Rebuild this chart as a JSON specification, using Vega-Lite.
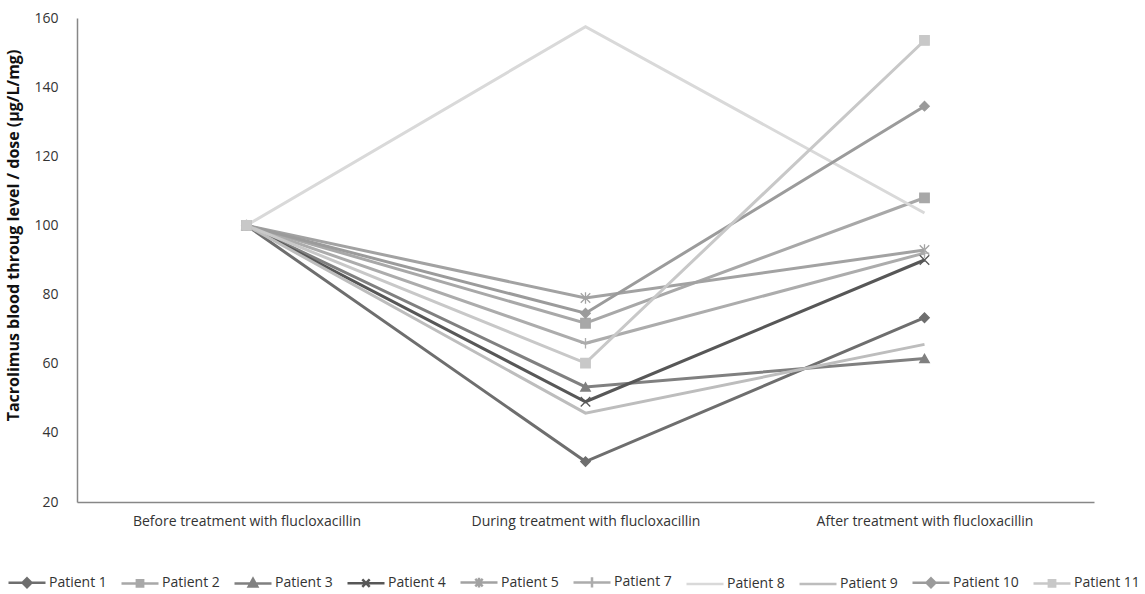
{
  "$schema": "https://vega.github.io/schema/vega-lite/v6.json",
  "autosize": {"type": "none"},
  "width": 1017,
  "height": 484,
  "padding": {"left": 77, "top": 18, "right": 51, "bottom": 92},
  "background": "white",
  "config": {"view": {"stroke": null}, "font": "Open Sans"},
  "data": {
    "values": [
      {"patient": "Patient 1", "phase": "Before treatment with flucloxacillin", "value": 100},
      {"patient": "Patient 1", "phase": "During treatment with flucloxacillin", "value": 31.7},
      {"patient": "Patient 1", "phase": "After treatment with flucloxacillin", "value": 73.3},
      {"patient": "Patient 2", "phase": "Before treatment with flucloxacillin", "value": 100},
      {"patient": "Patient 2", "phase": "During treatment with flucloxacillin", "value": 71.7},
      {"patient": "Patient 2", "phase": "After treatment with flucloxacillin", "value": 108},
      {"patient": "Patient 3", "phase": "Before treatment with flucloxacillin", "value": 100},
      {"patient": "Patient 3", "phase": "During treatment with flucloxacillin", "value": 53.3},
      {"patient": "Patient 3", "phase": "After treatment with flucloxacillin", "value": 61.5},
      {"patient": "Patient 4", "phase": "Before treatment with flucloxacillin", "value": 100},
      {"patient": "Patient 4", "phase": "During treatment with flucloxacillin", "value": 49},
      {"patient": "Patient 4", "phase": "After treatment with flucloxacillin", "value": 90},
      {"patient": "Patient 5", "phase": "Before treatment with flucloxacillin", "value": 100},
      {"patient": "Patient 5", "phase": "During treatment with flucloxacillin", "value": 79},
      {"patient": "Patient 5", "phase": "After treatment with flucloxacillin", "value": 92.9},
      {"patient": "Patient 7", "phase": "Before treatment with flucloxacillin", "value": 100},
      {"patient": "Patient 7", "phase": "During treatment with flucloxacillin", "value": 65.9},
      {"patient": "Patient 7", "phase": "After treatment with flucloxacillin", "value": 92},
      {"patient": "Patient 8", "phase": "Before treatment with flucloxacillin", "value": 100},
      {"patient": "Patient 8", "phase": "During treatment with flucloxacillin", "value": 157.5},
      {"patient": "Patient 8", "phase": "After treatment with flucloxacillin", "value": 103.6},
      {"patient": "Patient 9", "phase": "Before treatment with flucloxacillin", "value": 100},
      {"patient": "Patient 9", "phase": "During treatment with flucloxacillin", "value": 45.7},
      {"patient": "Patient 9", "phase": "After treatment with flucloxacillin", "value": 65.6},
      {"patient": "Patient 10", "phase": "Before treatment with flucloxacillin", "value": 100},
      {"patient": "Patient 10", "phase": "During treatment with flucloxacillin", "value": 74.6},
      {"patient": "Patient 10", "phase": "After treatment with flucloxacillin", "value": 134.5},
      {"patient": "Patient 11", "phase": "Before treatment with flucloxacillin", "value": 100},
      {"patient": "Patient 11", "phase": "During treatment with flucloxacillin", "value": 60.2},
      {"patient": "Patient 11", "phase": "After treatment with flucloxacillin", "value": 153.5}
    ]
  },
  "encoding": {
    "x": {
      "field": "phase",
      "type": "nominal",
      "sort": ["Before treatment with flucloxacillin", "During treatment with flucloxacillin", "After treatment with flucloxacillin"],
      "scale": {"type": "point", "padding": 0.5},
      "axis": {
        "title": null,
        "labelAngle": 0,
        "labelLimit": 0,
        "ticks": false,
        "grid": false,
        "domainColor": "#878787",
        "domainWidth": 1.5,
        "labelFontSize": 14,
        "labelColor": "#333333",
        "labelPadding": 12
      }
    },
    "y": {
      "field": "value",
      "type": "quantitative",
      "scale": {"domain": [20, 160], "nice": false, "zero": false},
      "axis": {
        "title": "Tacrolimus blood throug level / dose (µg/L/mg)",
        "values": [20, 40, 60, 80, 100, 120, 140, 160],
        "ticks": false,
        "grid": false,
        "domainColor": "#878787",
        "domainWidth": 1.5,
        "labelFontSize": 14,
        "labelColor": "#333333",
        "labelPadding": 19,
        "titleFontSize": 16,
        "titleFontWeight": "bold",
        "titleColor": "#111111",
        "titleX": -56,
        "titleY": 217
      }
    }
  },
  "layer": [
    {
      "mark": {"type": "line", "strokeWidth": 3},
      "encoding": {
        "color": {
          "field": "patient",
          "type": "nominal",
          "sort": ["Patient 1", "Patient 2", "Patient 3", "Patient 4", "Patient 5", "Patient 7", "Patient 8", "Patient 9", "Patient 10", "Patient 11"],
          "scale": {
            "domain": ["Patient 1", "Patient 2", "Patient 3", "Patient 4", "Patient 5", "Patient 7", "Patient 8", "Patient 9", "Patient 10", "Patient 11"],
            "range": ["#6e6e6e", "#a8a8a8", "#808080", "#575757", "#a2a2a2", "#acacac", "#d9d9d9", "#bdbdbd", "#9b9b9b", "#c8c8c8"]
          },
          "legend": {
            "title": null,
            "orient": "none",
            "legendX": -70,
            "legendY": 544,
            "direction": "horizontal",
            "columns": 10,
            "columnPadding": 9,
            "labelFontSize": 14,
            "labelColor": "#333333",
            "labelOffset": 2,
            "symbolSize": 1369,
            "encode": {
              "symbols": {
                "update": {
                  "shape": {"signal": "datum.value === 'Patient 1' || datum.value === 'Patient 10' ? 'M-1,0L1,0M0,-0.24L0.24,0L0,0.24L-0.24,0Z' : datum.value === 'Patient 2' || datum.value === 'Patient 11' ? 'M-1,0L1,0M-0.17,-0.17L0.17,-0.17L0.17,0.17L-0.17,0.17Z' : datum.value === 'Patient 3' ? 'M-1,0L1,0M0,-0.25L0.23,0.17L-0.23,0.17Z' : datum.value === 'Patient 4' ? 'M-1,0L1,0M-0.2,-0.2L0.2,0.2M-0.2,0.2L0.2,-0.2' : datum.value === 'Patient 5' ? 'M-1,0L1,0M-0.2,-0.2L0.2,0.2M-0.2,0.2L0.2,-0.2M0,-0.26L0,0.26' : datum.value === 'Patient 7' ? 'M-1,0L1,0M0,-0.28L0,0.28' : 'M-1,0L1,0'"},
                  "fill": {"scale": "color", "field": "value"},
                  "stroke": {"scale": "color", "field": "value"},
                  "strokeWidth": {"value": 2.5},
                  "size": {"value": 1369},
                  "opacity": {"value": 1}
                }
              }
            }
          }
        }
      }
    },
    {
      "transform": [{"filter": "datum.patient !== 'Patient 8' && datum.patient !== 'Patient 9'"}],
      "mark": {"type": "point", "filled": true, "size": 90, "strokeWidth": 1.3, "opacity": 1},
      "encoding": {
        "color": {
          "field": "patient",
          "type": "nominal",
          "legend": null
        },
        "stroke": {
          "field": "patient",
          "type": "nominal",
          "scale": {
            "domain": ["Patient 1", "Patient 2", "Patient 3", "Patient 4", "Patient 5", "Patient 7", "Patient 8", "Patient 9", "Patient 10", "Patient 11"],
            "range": ["#6e6e6e", "#a8a8a8", "#808080", "#575757", "#a2a2a2", "#acacac", "#d9d9d9", "#bdbdbd", "#9b9b9b", "#c8c8c8"]
          },
          "legend": null
        },
        "shape": {
          "field": "patient",
          "type": "nominal",
          "scale": {
            "domain": ["Patient 1", "Patient 2", "Patient 3", "Patient 4", "Patient 5", "Patient 7", "Patient 10", "Patient 11"],
            "range": ["diamond", "square", "triangle-up", "M-1,-1L1,1M-1,1L1,-1", "M-1,-1L1,1M-1,1L1,-1M0,-1.2L0,1.2", "M0,-1.1L0,1.1M-1,0L1,0", "diamond", "square"]
          },
          "legend": null
        }
      }
    }
  ]
}
